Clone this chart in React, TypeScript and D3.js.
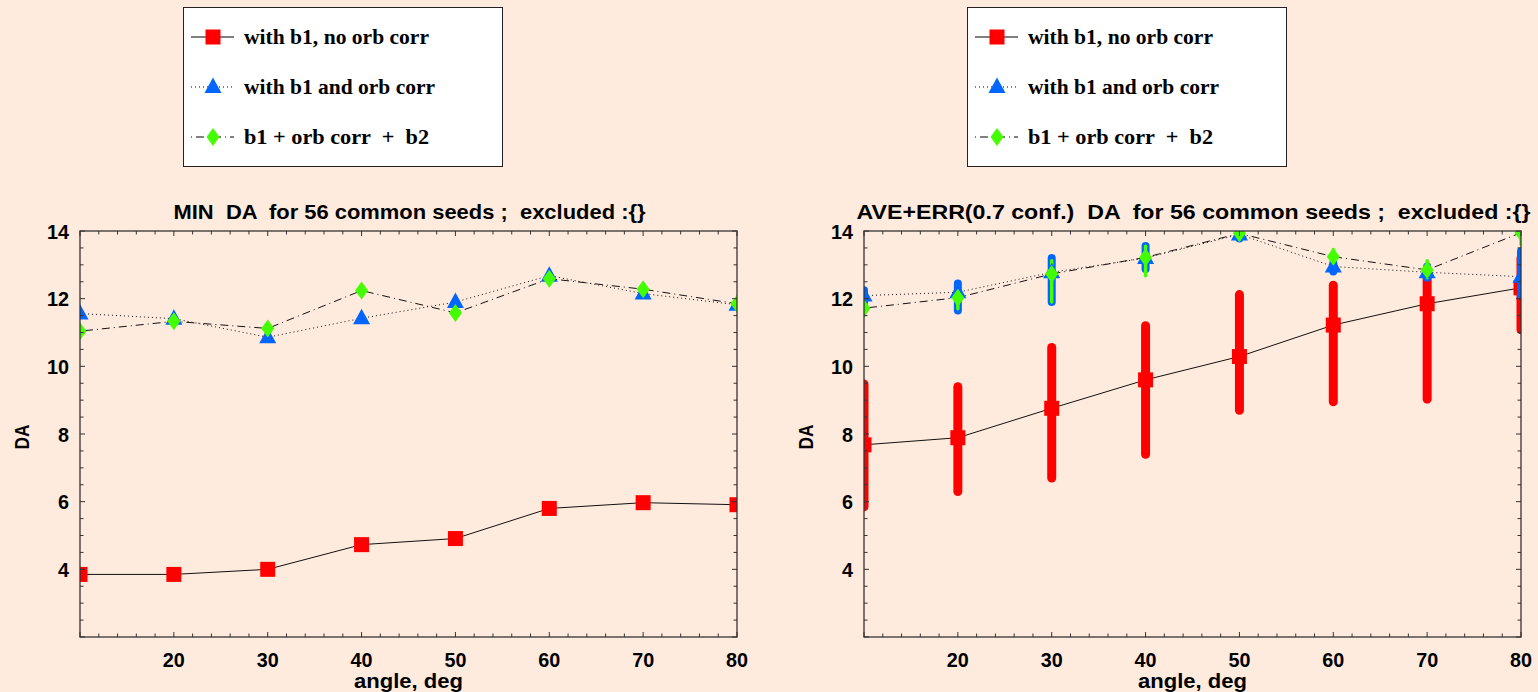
import React from 'react';
import * as d3 from 'd3';

// ---------- data ----------
const angles = [10, 20, 30, 40, 50, 60, 70, 80];

// Left panel: MIN DA
const minNoOrb = [3.85, 3.85, 4.0, 4.73, 4.91, 5.8, 5.97, 5.91];
const minOrb = [11.56, 11.41, 10.86, 11.42, 11.9, 12.68, 12.15, 11.82];
const minOrbB2 = [11.04, 11.33, 11.12, 12.24, 11.58, 12.59, 12.28, 11.85];

// Right panel: AVE+ERR
const aveNoOrb = [7.68, 7.89, 8.76, 9.6, 10.29, 11.22, 11.85, 12.32];
const aveNoOrbLo = [5.85, 6.3, 6.7, 7.4, 8.7, 8.95, 9.03, 11.08];
const aveNoOrbHi = [9.48, 9.4, 10.56, 11.2, 12.12, 12.4, 12.7, 13.2];
const aveOrb = [12.09, 12.19, 12.78, 13.2, 13.9, 12.95, 12.78, 12.65];
const aveOrbLo = [11.9, 11.65, 11.9, 12.88, 13.78, 12.8, 12.62, 12.12];
const aveOrbHi = [12.25, 12.45, 13.2, 13.56, 14.3, 13.05, 12.95, 13.4];
const aveOrbB2 = [11.72, 12.03, 12.73, 13.22, 13.93, 13.24, 12.85, 13.95];
const aveOrbB2Lo = [11.5, 11.7, 11.9, 12.68, 13.75, 13.05, 12.62, 13.6];
const aveOrbB2Hi = [12.0, 12.36, 13.12, 13.55, 14.3, 13.45, 13.12, 14.4];

const xMajorTicks = [20, 30, 40, 50, 60, 70, 80];
const yMajorTicks = [4, 6, 8, 10, 12, 14];

const legendLabels = ['with b1, no orb corr', 'with b1 and orb corr', 'b1 + orb corr  +  b2'];
const leftTitle = 'MIN  DA  for 56 common seeds ;  excluded :{}';
const rightTitle = 'AVE+ERR(0.7 conf.)  DA  for 56 common seeds ;  excluded :{}';

// ---------- style ----------
const BG = '#FEEBDD';
const RED = '#FF0000';
const BLUE = '#0066FF';
const GREEN = '#44FF00';
const SANS = '"Liberation Sans", Arial, sans-serif';
const SERIF = '"Liberation Serif", "Times New Roman", serif';

const TOP = 231;
const BOTTOM = 637;
const PLOT_W = 657;

type Series = { v: number[]; lo?: number[]; hi?: number[] };

function Square({ x, y }: { x: number; y: number }) {
  return <rect x={x - 7.5} y={y - 7.5} width={15} height={15} fill={RED} />;
}
function Tri({ x, y }: { x: number; y: number }) {
  return <path d={`M${x},${y - 9.5}L${x + 8.5},${y + 6}L${x - 8.5},${y + 6}Z`} fill={BLUE} />;
}
function Diamond({ x, y }: { x: number; y: number }) {
  return <path d={`M${x},${y - 9}L${x + 6.5},${y}L${x},${y + 9}L${x - 6.5},${y}Z`} fill={GREEN} />;
}

function Legend({ x0 }: { x0: number }) {
  const rows = [37, 87, 137];
  const widths = [185, 191, 185];
  return (
    <g>
      <rect x={x0 + 0.5} y={7.5} width={319} height={159} fill="#fff" stroke="#222" strokeWidth={1} />
      <line x1={x0 + 8} x2={x0 + 51} y1={rows[0]} y2={rows[0]} stroke="#000" strokeWidth={1} />
      <Square x={x0 + 30} y={rows[0]} />
      <line x1={x0 + 8} x2={x0 + 50} y1={rows[1]} y2={rows[1]} stroke="#000" strokeWidth={1} strokeDasharray="1,3" />
      <Tri x={x0 + 30} y={rows[1]} />
      <line x1={x0 + 8} x2={x0 + 51} y1={rows[2]} y2={rows[2]} stroke="#000" strokeWidth={1} strokeDasharray="1,4,8,4" />
      <Diamond x={x0 + 30} y={rows[2]} />
      {legendLabels.map((t, i) => (
        <text key={i} x={x0 + 61} y={rows[i] + 7} fontFamily={SERIF} fontWeight="bold" fontSize={21}
          textLength={widths[i]} lengthAdjust="spacingAndGlyphs" style={{ whiteSpace: 'pre' }} fill="#000">{t}</text>
      ))}
    </g>
  );
}

function Panel({ left, title, titleWidth, red, blue, green, id }: {
  left: number; title: string; titleWidth: number; red: Series; blue: Series; green: Series; id: string;
}) {
  const x = d3.scaleLinear().domain([10, 80]).range([left, left + PLOT_W]);
  const y = d3.scaleLinear().domain([2, 14]).range([BOTTOM, TOP]);
  const line = (vals: number[]) =>
    d3.line<number>().x((_, i) => x(angles[i])).y((d) => y(d))(vals) || '';
  const xMinor = d3.range(10, 80.01, 2);
  const yMinor = d3.range(2, 14.01, 0.5);
  const cx = left + PLOT_W / 2;

  const errBars = (s: Series, color: string, w: number) =>
    s.lo && s.hi
      ? angles.map((a, i) => (
          <line key={color + i} x1={x(a)} x2={x(a)} y1={y(s.lo![i])} y2={y(s.hi![i])}
            stroke={color} strokeWidth={w} strokeLinecap="round" />
        ))
      : null;

  return (
    <g>
      <defs>
        <clipPath id={id}>
          <rect x={left} y={TOP} width={PLOT_W} height={BOTTOM - TOP} />
        </clipPath>
      </defs>
      <text x={cx + 1} y={219} textAnchor="middle" fontFamily={SANS} fontWeight="bold" fontSize={20.5}
        textLength={titleWidth} lengthAdjust="spacingAndGlyphs" style={{ whiteSpace: 'pre' }}>{title}</text>

      <g clipPath={`url(#${id})`}>
        {errBars(red, RED, 9)}
        <path d={line(red.v)} fill="none" stroke="#111" strokeWidth={1} />
        {angles.map((a, i) => <Square key={'s' + i} x={x(a)} y={y(red.v[i])} />)}
        {errBars(blue, BLUE, 8)}
        <path d={line(blue.v)} fill="none" stroke="#111" strokeWidth={1} strokeDasharray="1,3" />
        {errBars(green, GREEN, 3.5)}
        {angles.map((a, i) => <Tri key={'t' + i} x={x(a)} y={y(blue.v[i])} />)}
        <path d={line(green.v)} fill="none" stroke="#111" strokeWidth={1} strokeDasharray="1,4,8,4" />
        {angles.map((a, i) => <Diamond key={'d' + i} x={x(a)} y={y(green.v[i])} />)}
      </g>

      {/* frame */}
      <rect x={left} y={TOP} width={PLOT_W} height={BOTTOM - TOP} fill="none" stroke="#333" strokeWidth={1.3} />
      {/* ticks */}
      {xMinor.map((t) => {
        const major = t % 10 === 0;
        const len = major ? 5 : 3.5;
        return (
          <g key={'xt' + t}>
            <line x1={x(t)} x2={x(t)} y1={BOTTOM} y2={BOTTOM - len} stroke="#333" strokeWidth={1} />
            <line x1={x(t)} x2={x(t)} y1={TOP} y2={TOP + len} stroke="#333" strokeWidth={1} />
          </g>
        );
      })}
      {yMinor.map((t) => {
        const major = t % 2 === 0;
        const len = major ? 5 : 3.5;
        return (
          <g key={'yt' + t}>
            <line x1={left} x2={left + len} y1={y(t)} y2={y(t)} stroke="#333" strokeWidth={1} />
            <line x1={left + PLOT_W} x2={left + PLOT_W - len} y1={y(t)} y2={y(t)} stroke="#333" strokeWidth={1} />
          </g>
        );
      })}
      {xMajorTicks.map((t) => (
        <text key={'xl' + t} x={x(t)} y={667} textAnchor="middle" fontFamily={SANS} fontWeight="bold"
          fontSize={21} textLength={22} lengthAdjust="spacingAndGlyphs">{t}</text>
      ))}
      {yMajorTicks.map((t) => (
        <text key={'yl' + t} x={left - 11} y={y(t) + 7.5} textAnchor="end" fontFamily={SANS} fontWeight="bold"
          fontSize={21} textLength={t >= 10 ? 22 : 11} lengthAdjust="spacingAndGlyphs">{t}</text>
      ))}
      <text x={cx} y={688} textAnchor="middle" fontFamily={SANS} fontWeight="bold" fontSize={21}
        textLength={109} lengthAdjust="spacingAndGlyphs">angle, deg</text>
      <text transform={`translate(${left - 51},437) rotate(-90)`} textAnchor="middle" fontFamily={SANS}
        fontWeight="bold" fontSize={20} textLength={25} lengthAdjust="spacingAndGlyphs">DA</text>
    </g>
  );
}

export default function App() {
  return (
    <svg width={1538} height={692} style={{ position: 'absolute', left: 0, top: 0, display: 'block' }}>
      <rect x={0} y={0} width={1538} height={692} fill={BG} />
      <Legend x0={183} />
      <Legend x0={967} />
      <Panel id="clipL" left={80} title={leftTitle} titleWidth={472}
        red={{ v: minNoOrb }} blue={{ v: minOrb }} green={{ v: minOrbB2 }} />
      <Panel id="clipR" left={864} title={rightTitle} titleWidth={674}
        red={{ v: aveNoOrb, lo: aveNoOrbLo, hi: aveNoOrbHi }}
        blue={{ v: aveOrb, lo: aveOrbLo, hi: aveOrbHi }}
        green={{ v: aveOrbB2, lo: aveOrbB2Lo, hi: aveOrbB2Hi }} />
    </svg>
  );
}
